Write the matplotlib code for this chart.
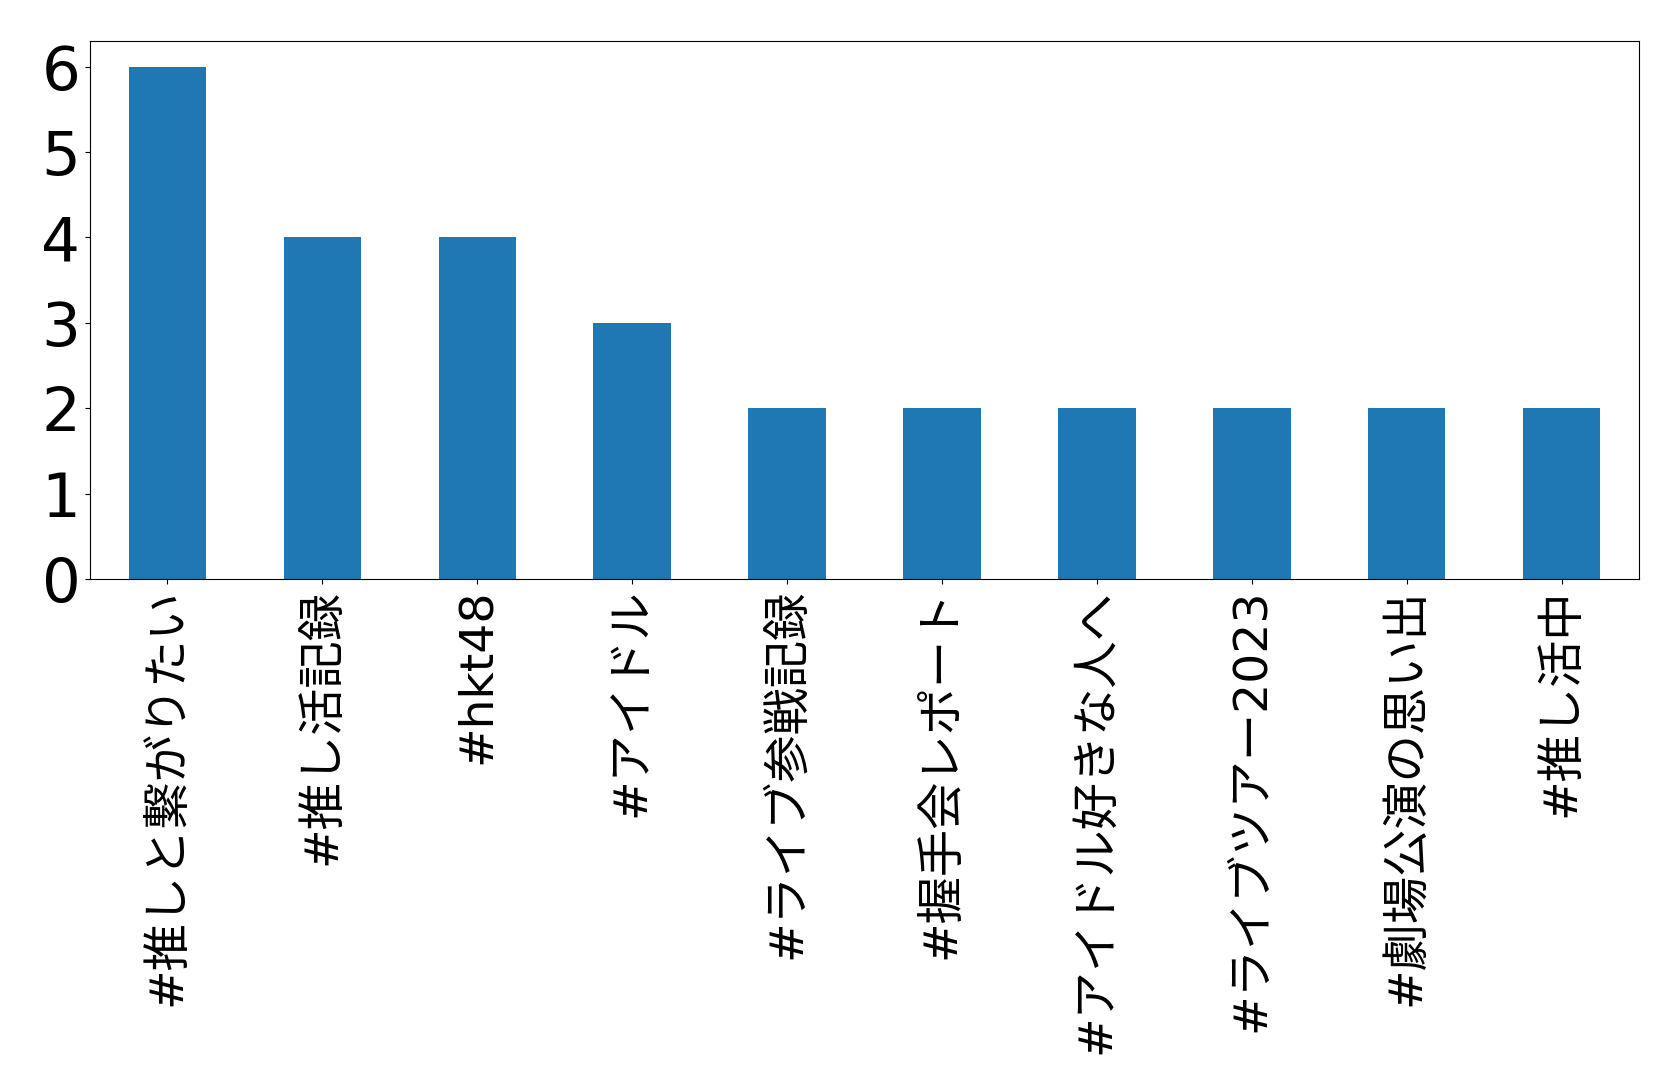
# coding=utf-8

import pandas as pd
import matplotlib
matplotlib.use('Agg')
import matplotlib.pyplot as plt

# hashtags, most used first (the original chart drew the Japanese as empty boxes,
# so only the number of characters per tag could be read)
tags = ['#推しと繋がりたい', '#推し活記録', '#hkt48', '#アイドル', '#ライブ参戦記録',
        '#握手会レポート', '#アイドル好きな人へ', '#ライブツアー2023', '#劇場公演の思い出', '#推し活中']
counts = [6, 4, 4, 3, 2, 2, 2, 2, 2, 2]


def parse_dataframe(tags, counts):
    df = pd.DataFrame({'tag': tags, 'count': counts})
    top_data = df.sort_values(by='count', ascending=False, kind='stable').reset_index(drop=True)

    fig = plt.figure(figsize=(16.79, 10.65), dpi=100)
    ax = fig.add_axes([0.0536, 0.4563, 0.9226, 0.5052])
    top_data.plot(x='tag', y='count', kind='bar', ax=ax, color='#1f77b4')
    ax.set_xlabel('')
    ax.legend().set_visible(False)
    ax.set_yticks(range(0, 7))
    ax.tick_params(axis='y', labelsize=44)
    # full-width Japanese glyphs are much wider than the boxes, so a bit smaller here
    for lbl in ax.get_xticklabels():
        lbl.set_family(['DejaVu Sans', 'Noto Sans CJK JP'])
        lbl.set_fontsize(34)
        lbl.set_rotation(90)
    fig.savefig('out.png', dpi=100)


if __name__ == '__main__':
    parse_dataframe(tags, counts)
